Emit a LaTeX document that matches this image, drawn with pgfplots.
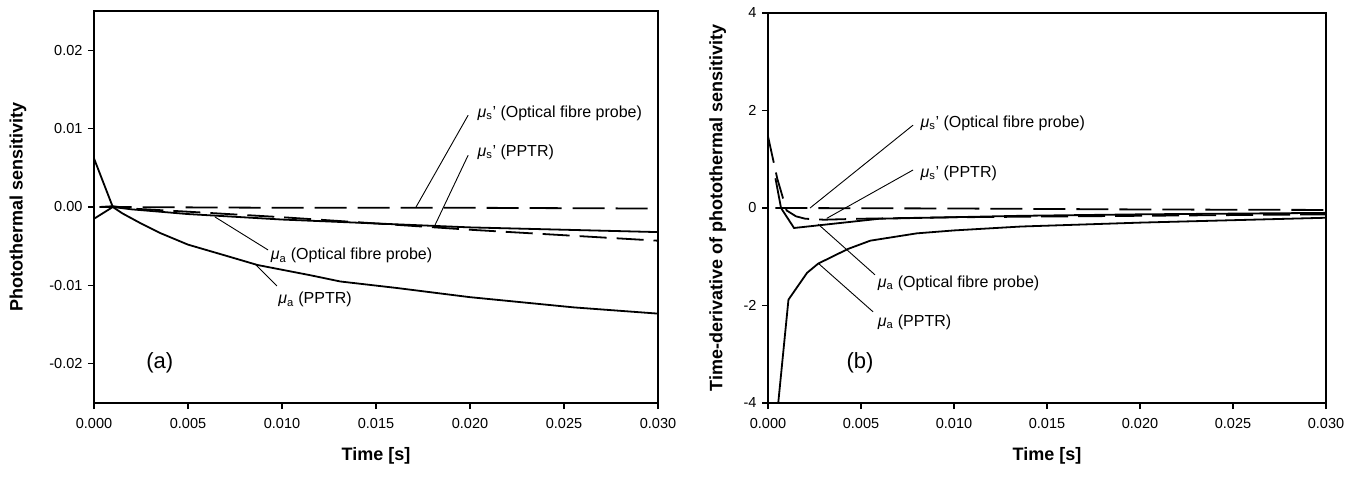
\documentclass[border=0pt]{standalone}
\usepackage{fontspec}
\setmainfont{Liberation Sans}
\usepackage{pgfplots}
\pgfplotsset{compat=1.18}

\newcommand{\mua}{{\itshape μ}\textsubscript{a}}
\newcommand{\mus}{{\itshape μ}\textsubscript{s}'}

\tikzset{
  sol/.style={black, line width=1.8pt},
  lda/.style={black, line width=1.8pt, dash pattern=on 32pt off 11pt},
  sda/.style={black, line width=1.8pt, dash pattern=on 27pt off 10pt},
  lead/.style={black, line width=0.9pt},
  ann/.style={anchor=west, font=\fontsize{16}{18}\selectfont, inner sep=0pt},
}
\pgfplotsset{
  panel/.style={
    scale only axis,
    xmin=0, xmax=0.03,
    xtick={0,0.005,0.01,0.015,0.02,0.025,0.03},
    xticklabel style={yshift=-6pt, /pgf/number format/.cd,fixed,fixed zerofill,precision=3},
    yticklabel style={xshift=-2pt},
    scaled x ticks=false,
    xtick pos=bottom, ytick pos=left,
    tick align=outside,
    major tick length=6pt,
    tick style={black, line width=1.1pt},
    axis line style={black, line width=1.3pt},
    /pgf/number format/assume math mode=true,
    every tick label/.style={font=\fontsize{14.5}{16}\selectfont},
    label style={font=\bfseries\fontsize{18}{20}\selectfont},
    xlabel={Time [s]},
    clip mode=individual,
  },
}

\begin{document}
\begin{tikzpicture}
\useasboundingbox (0,0) rectangle (1358pt,477pt);

% (a) photothermal sensitivity
\begin{axis}[
  panel,
  at={(94pt,74pt)}, anchor=south west,
  width=564pt, height=392pt,
  ymin=-0.025, ymax=0.025,
  ytick={-0.02,-0.01,0,0.01,0.02},
  yticklabel style={/pgf/number format/.cd,fixed,fixed zerofill,precision=2},
  scaled y ticks=false,
  ylabel={Photothermal sensitivity},
  ylabel style={at={(axis description cs:-0.135,0.5)}, anchor=center},
  xlabel style={at={(axis description cs:0.5,-0.135)}, anchor=center},
]
% mu_a (PPTR)
\addplot[sol] coordinates {
  (0,0.0062)(0.001,0.0)(0.0015,-0.0008)(0.0025,-0.0021)(0.0035,-0.0033)
  (0.005,-0.0048)(0.007,-0.0062)(0.0087,-0.0074)(0.0115,-0.0087)
  (0.0131,-0.0095)(0.016,-0.0103)(0.020,-0.0115)(0.0255,-0.0128)(0.03,-0.0136)
};
% mu_a (optical fibre probe)
\addplot[sol] coordinates {
  (0,-0.0015)(0.001,0.0)(0.002,-0.0003)(0.005,-0.0009)(0.01,-0.0016)
  (0.015,-0.0021)(0.02,-0.0026)(0.025,-0.0029)(0.03,-0.0032)
};
% mu_s' (PPTR)
\addplot[sda] coordinates {
  (0.0003,0.0)(0.001,0.0001)(0.002,-0.0002)(0.005,-0.0006)(0.01,-0.0013)
  (0.015,-0.0021)(0.02,-0.0029)(0.025,-0.0036)(0.03,-0.0043)
};
% mu_s' (optical fibre probe)
\addplot[lda] coordinates {
  (0.0003,0.0)(0.01,-0.0001)(0.02,-0.0001)(0.03,-0.0002)
};
\draw[lead] (axis cs:0.0199,0.0117) -- (axis cs:0.01713,0.0);
\node[ann] at (axis cs:0.0204,0.012) {\mus\ (Optical fibre probe)};
\draw[lead] (axis cs:0.0199,0.0066) -- (axis cs:0.01809,-0.00255);
\node[ann] at (axis cs:0.0204,0.0070) {\mus\ (PPTR)};
\draw[lead] (axis cs:0.00644,-0.00128) -- (axis cs:0.00926,-0.00548);
\node[ann] at (axis cs:0.0094,-0.0062) {\mua\ (Optical fibre probe)};
\draw[lead] (axis cs:0.00856,-0.00727) -- (axis cs:0.00973,-0.01008);
\node[ann] at (axis cs:0.0098,-0.0118) {\mua\ (PPTR)};
\node[font=\fontsize{22}{24}\selectfont] at (axis cs:0.0035,-0.0199) {(a)};
\end{axis}

% (b) time-derivative
\begin{axis}[
  panel,
  at={(768pt,74pt)}, anchor=south west,
  width=558pt, height=390pt,
  ymin=-4, ymax=4,
  ytick={-4,-2,0,2,4},
  ylabel={Time-derivative of photothermal sensitivity},
  ylabel style={at={(axis description cs:-0.09,0.5)}, anchor=center},
  xlabel style={at={(axis description cs:0.5,-0.136)}, anchor=center},
]
% mu_a (PPTR)
\addplot[sol] coordinates {
  (0.00055,-4.0)(0.0011,-1.88)(0.0021,-1.33)(0.0027,-1.14)(0.0043,-0.84)
  (0.0055,-0.67)(0.008,-0.52)(0.01,-0.46)(0.0136,-0.38)(0.02,-0.30)
  (0.025,-0.25)(0.03,-0.20)
};
% mu_a (optical fibre probe)
\addplot[sol] coordinates {
  (0.0004,0.61)(0.0007,0.0)(0.0014,-0.41)(0.006,-0.22)(0.0136,-0.16)
  (0.02,-0.13)(0.03,-0.10)
};
% mu_s' (PPTR)
\addplot[sda] coordinates {
  (0,1.47)(0.0005,0.6)(0.001,-0.05)(0.0015,-0.17)(0.002,-0.22)(0.003,-0.24)
  (0.005,-0.22)(0.01,-0.19)(0.02,-0.16)(0.03,-0.13)
};
% mu_s' (optical fibre probe)
\addplot[lda] coordinates {
  (0.0004,0.0)(0.01,-0.01)(0.02,-0.03)(0.03,-0.04)
};
\draw[lead] (axis cs:0.0078,1.70) -- (axis cs:0.00226,0.0);
\node[ann] at (axis cs:0.0082,1.74) {\mus\ (Optical fibre probe)};
\draw[lead] (axis cs:0.0078,0.78) -- (axis cs:0.00317,-0.21);
\node[ann] at (axis cs:0.0082,0.72) {\mus\ (PPTR)};
\draw[lead] (axis cs:0.00575,-1.37) -- (axis cs:0.00269,-0.33);
\node[ann] at (axis cs:0.0059,-1.54) {\mua\ (Optical fibre probe)};
\draw[lead] (axis cs:0.00565,-2.13) -- (axis cs:0.00269,-1.13);
\node[ann] at (axis cs:0.0059,-2.34) {\mua\ (PPTR)};
\node[font=\fontsize{22}{24}\selectfont] at (axis cs:0.00495,-3.18) {(b)};
\end{axis}
\end{tikzpicture}
\end{document}
